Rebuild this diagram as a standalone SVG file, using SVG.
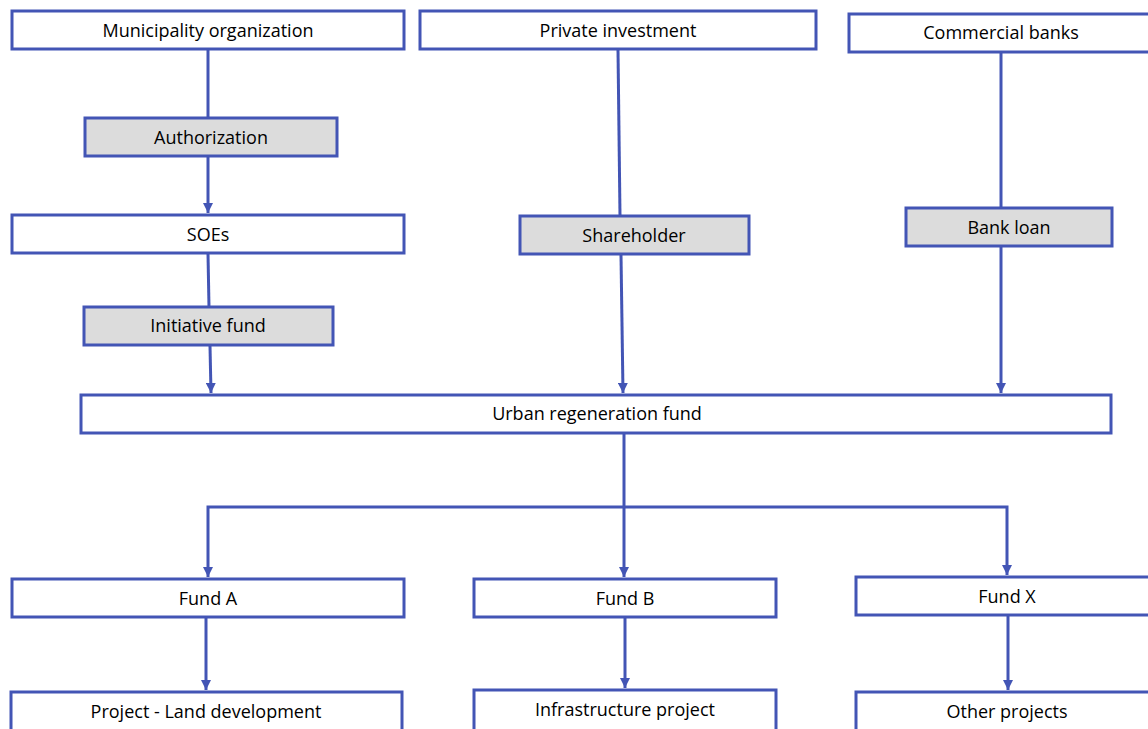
<svg xmlns="http://www.w3.org/2000/svg" width="1148" height="729" viewBox="0 0 1148 729">
<defs>
<marker id="arr" viewBox="0 0 10 10" refX="10" refY="5" markerWidth="10" markerHeight="10" markerUnits="userSpaceOnUse" orient="auto">
<path d="M0,0 L10,5 L0,10 z" fill="#4355B5"/>
</marker>
<marker id="arrs" viewBox="0 0 10 10" refX="0" refY="5" markerWidth="10" markerHeight="10" markerUnits="userSpaceOnUse" orient="auto">
<path d="M10,0 L0,5 L10,10 z" fill="#4355B5"/>
</marker>
<style>
.box{fill:#ffffff;stroke:#4355B5;stroke-width:3}
.gbox{fill:#dcdcdc;stroke:#4355B5;stroke-width:3}
.t{font-family:"Open Sans","Liberation Sans",sans-serif;font-size:18px;fill:#000;text-anchor:middle;dominant-baseline:central}
.c{fill:none;stroke:#4355B5;stroke-width:3}
</style>
</defs>
<rect width="1148" height="729" fill="#ffffff"/>
<g id="connectors">
<line class="c" x1="208" y1="50" x2="208" y2="118"/>
<line class="c" x1="208" y1="157" x2="208" y2="213" marker-end="url(#arr)"/>
<line class="c" x1="208" y1="254" x2="209" y2="307"/>
<line class="c" x1="210" y1="346" x2="211" y2="393" marker-end="url(#arr)"/>
<line class="c" x1="618" y1="50" x2="620" y2="216"/>
<line class="c" x1="621" y1="255" x2="623" y2="393" marker-end="url(#arr)"/>
<line class="c" x1="1001" y1="53" x2="1001" y2="208"/>
<line class="c" x1="1001" y1="247" x2="1001" y2="393" marker-end="url(#arr)"/>
<line class="c" x1="624" y1="434" x2="624" y2="577" marker-end="url(#arr)"/>
<polyline class="c" points="1007,575 1007,507 208,507 208,577" marker-end="url(#arr)" marker-start="url(#arrs)"/>
<line class="c" x1="206" y1="618" x2="206" y2="690" marker-end="url(#arr)"/>
<line class="c" x1="625" y1="618" x2="625" y2="688" marker-end="url(#arr)"/>
<line class="c" x1="1008" y1="616" x2="1008" y2="690" marker-end="url(#arr)"/>
</g>
<g id="municipality"><rect class="box" x="12" y="11" width="392" height="38"/><text class="t" x="208" y="30">Municipality organization</text></g>
<g id="private"><rect class="box" x="420" y="11" width="396" height="38"/><text class="t" x="618" y="30">Private investment</text></g>
<g id="banks"><rect class="box" x="849" y="14" width="310" height="38"/><text class="t" x="1001" y="32">Commercial banks</text></g>
<g id="authorization"><rect class="gbox" x="85" y="118" width="252" height="38"/><text class="t" x="211" y="137">Authorization</text></g>
<g id="soes"><rect class="box" x="12" y="215" width="392" height="38"/><text class="t" x="208" y="234">SOEs</text></g>
<g id="initiative"><rect class="gbox" x="84" y="307" width="249" height="38"/><text class="t" x="208" y="325">Initiative fund</text></g>
<g id="shareholder"><rect class="gbox" x="520" y="216" width="229" height="38"/><text class="t" x="634" y="235">Shareholder</text></g>
<g id="bankloan"><rect class="gbox" x="906" y="208" width="206" height="38"/><text class="t" x="1009" y="227">Bank loan</text></g>
<g id="urban"><rect class="box" x="81" y="395" width="1030" height="38"/><text class="t" x="597" y="413">Urban regeneration fund</text></g>
<g id="fundA"><rect class="box" x="12" y="579" width="392" height="38"/><text class="t" x="208" y="598">Fund A</text></g>
<g id="fundB"><rect class="box" x="474" y="579" width="302" height="38"/><text class="t" x="625" y="598">Fund B</text></g>
<g id="fundX"><rect class="box" x="856" y="577" width="300" height="38"/><text class="t" x="1007" y="596">Fund X</text></g>
<g id="projectA"><rect class="box" x="11" y="692" width="391" height="45"/><text class="t" x="206" y="711">Project - Land development</text></g>
<g id="projectB"><rect class="box" x="474" y="690" width="302" height="45"/><text class="t" x="625" y="709">Infrastructure project</text></g>
<g id="projectX"><rect class="box" x="856" y="692" width="300" height="45"/><text class="t" x="1007" y="711">Other projects</text></g>
</svg>
